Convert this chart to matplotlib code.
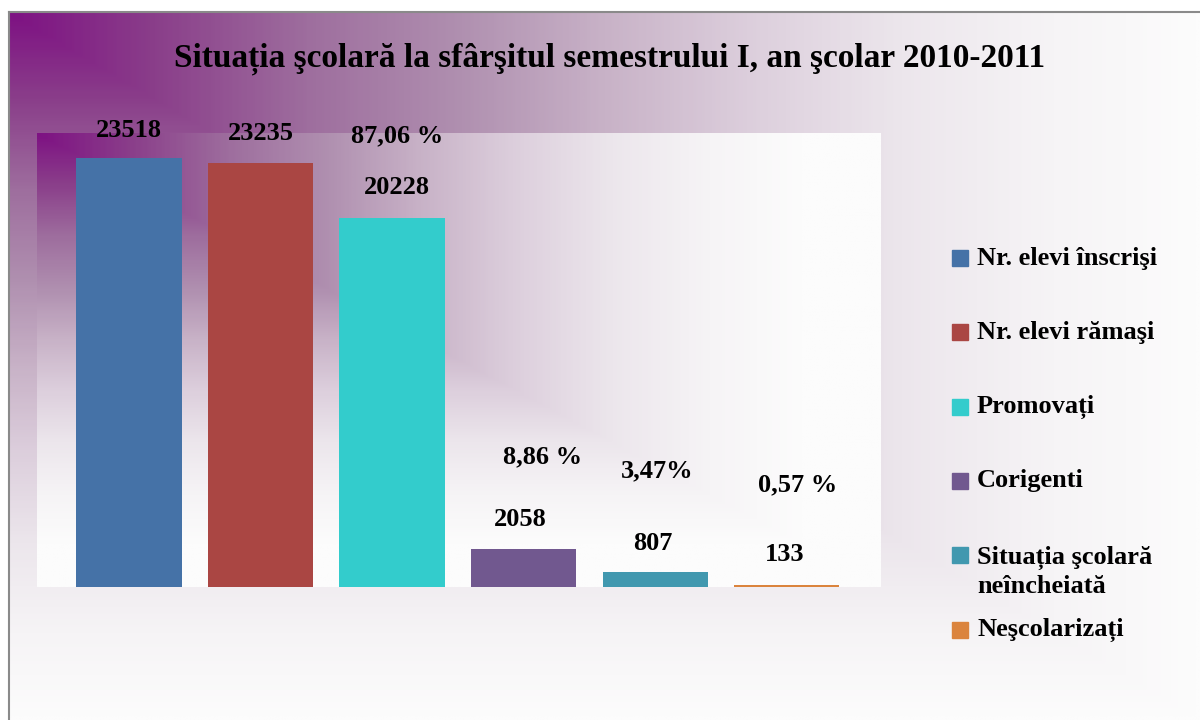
import numpy as np
import matplotlib.pyplot as plt
from matplotlib.colors import LinearSegmentedColormap
from matplotlib.patches import Rectangle

# === data
title = "Situația şcolară la sfârşitul semestrului I, an şcolar 2010-2011"
series = ["Nr. elevi înscrişi", "Nr. elevi rămaşi", "Promovați", "Corigenti",
          "Situația şcolară\nneîncheiată", "Neşcolarizați"]
values = [23518, 23235, 20228, 2058, 807, 133]
percents = ["", "", "87,06 %", "8,86 %", "3,47%", "0,57 %"]
colors = ["#4572A7", "#AA4643", "#33CCCC", "#71588F", "#4198AF", "#DB843D"]

W, H = 1200, 720
SERIF = "Liberation Serif"


def px(x0, y0, x1, y1):
    # pixel box -> figure fraction rect
    return [x0 / W, 1 - y1 / H, (x1 - x0) / W, (y1 - y0) / H]


def corner(nx, ny, k=1.0):
    # "from corner" fill: top-left dark, fading right and down
    u = np.linspace(0, 1, nx)[None, :]
    v = np.linspace(0, 1, ny)[:, None]
    return np.clip(np.maximum(u, v) * k, 0, 1)


purple = LinearSegmentedColormap.from_list("purple_fade", [
    (0.0, "#7E1283"), (0.12, "#8A3E8A"), (0.25, "#9E6E9E"), (0.38, "#B090B0"),
    (0.5, "#C8B2C7"), (0.62, "#DCCEDC"), (0.75, "#ECE6EC"), (0.88, "#F6F4F6"),
    (1.0, "#FCFCFC")])

fig = plt.figure(figsize=(12, 7.2), dpi=100)

# chart area background
bg = fig.add_axes(px(9, 12, 1200, 720))
bg.imshow(corner(400, 300), cmap=purple, aspect="auto", vmin=0, vmax=1)
bg.set_xticks([])
bg.set_yticks([])
for s in ["right", "bottom"]:
    bg.spines[s].set_visible(False)
for s in ["top", "left"]:
    bg.spines[s].set_color("#8A8A8A")
    bg.spines[s].set_linewidth(1.5)

# plot area
ax = fig.add_axes(px(37, 133, 880, 587))
x0, x1, ytop = -0.70, 5.71, 24900
ax.imshow(corner(400, 300, 1.1), cmap=purple, aspect="auto", vmin=0, vmax=1,
          extent=(x0, x1, 0, ytop), zorder=0)
x = np.arange(len(values))
ax.bar(x, values, width=0.8, color=colors, zorder=2)
ax.set_xlim(x0, x1)
ax.set_ylim(0, ytop)
ax.axis("off")

# value labels (offsets in pixels from bar top)
val_off = [(0, 28), (0, 30), (5, 31), (-3, 30), (-2, 29), (-2, 30)]
pct_off = [(0, 0), (0, 0), (5, 82), (19, 93), (2, 101), (11, 100)]
for i, v in enumerate(values):
    ax.annotate(str(v), (i, v), xytext=val_off[i], textcoords="offset pixels",
                ha="center", va="center", fontsize=19, fontweight="bold",
                family=SERIF, zorder=3)
    if percents[i]:
        ax.annotate(percents[i], (i, v), xytext=pct_off[i], textcoords="offset pixels",
                    ha="center", va="center", fontsize=19, fontweight="bold",
                    family=SERIF, zorder=3)

# title
fig.text(610 / W, 1 - 59 / H, title, ha="center", va="center", fontsize=24,
         fontweight="bold", family=SERIF)

# legend
rows = [258, 332, 407, 481, 572, 630]
for lab, col, yc in zip(series, colors, rows):
    ym = yc if "\n" not in lab else 555
    fig.add_artist(Rectangle((952 / W, 1 - (ym + 8) / H), 16 / W, 16 / H,
                             transform=fig.transFigure, color=col))
    fig.text(977 / W, 1 - yc / H, lab, ha="left", va="center", fontsize=19,
             fontweight="bold", family=SERIF, linespacing=1.3)

fig.savefig("out.png", dpi=100)
